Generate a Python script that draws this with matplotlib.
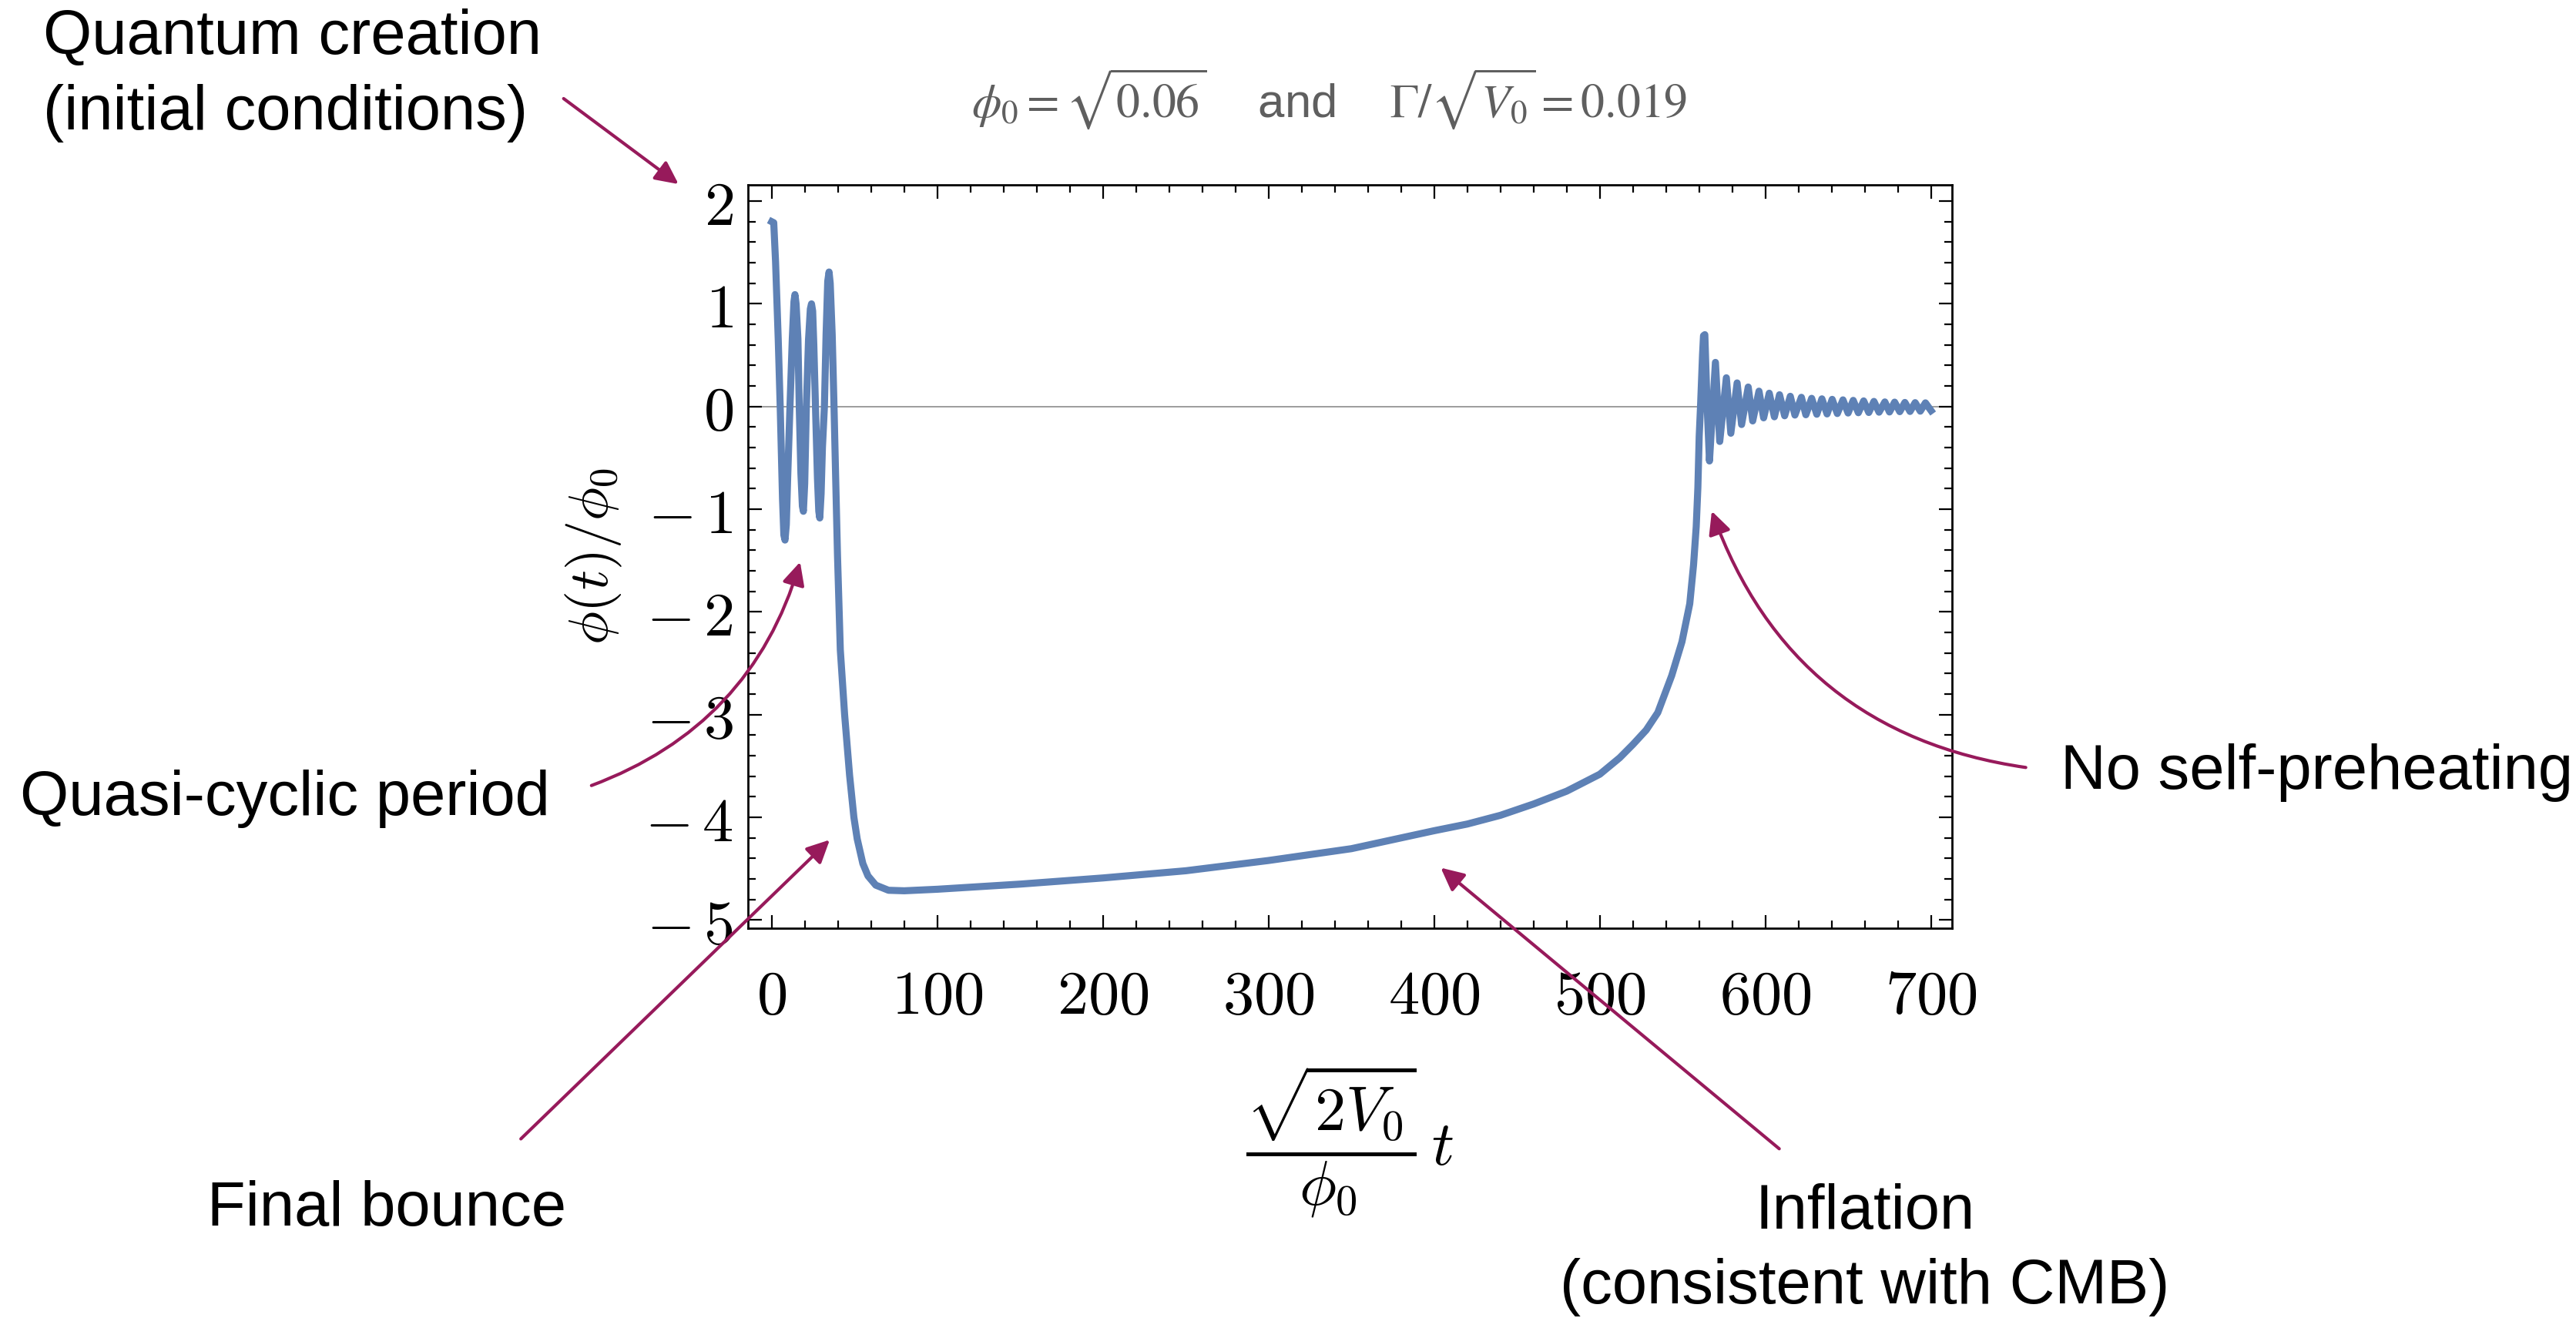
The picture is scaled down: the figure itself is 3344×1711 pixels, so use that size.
import matplotlib
matplotlib.use('Agg')
import matplotlib.pyplot as plt
from matplotlib.ticker import MultipleLocator, FuncFormatter

plt.rcParams['mathtext.fontset'] = 'cm'

# values: t (x axis) and phi(t)/phi_0 (y axis)
t_early = [0, 1.2, 2.3, 3.9, 5.1, 6.5, 7.3, 8.0, 8.8, 9.6, 11.0, 12.4, 13.4, 14.0,
           14.7, 15.8, 16.6, 17.6, 18.5, 19.1, 19.9, 20.9, 22.2, 23.3, 24.0, 24.7,
           25.4, 26.4, 27.6, 28.4, 29.0, 29.8, 30.6, 31.8, 32.8, 33.8, 34.6, 35.3,
           36.5, 37.6, 38.6]
phi_early = [1.80, 1.79, 1.41, 0.66, 0.0, -0.90, -1.25, -1.30, -1.15, -0.70, 0.0,
             0.66, 1.02, 1.09, 1.00, 0.66, 0.0, -0.65, -0.97, -1.02, -0.75, 0.0,
             0.65, 0.95, 1.00, 0.93, 0.60, 0.0, -0.70, -1.02, -1.085, -0.85, -0.40,
             0.0, 0.70, 1.22, 1.31, 1.20, 0.70, 0.0, -0.70]

t_fall = [39.7, 41.4, 44.0, 47.0, 49.6, 51.6, 55.0, 58.1, 62.8, 70.5]
phi_fall = [-1.45, -2.37, -3.0, -3.59, -4.0, -4.21, -4.45, -4.57, -4.66, -4.71]

t_slow = [80, 100, 150, 200, 250, 300, 350, 400, 420, 440, 460, 480, 500, 512,
          520, 528, 535, 543.4, 549.6, 554.3, 556.6, 558.2, 559.2, 560.0, 560.8]
phi_slow = [-4.715, -4.70, -4.65, -4.59, -4.52, -4.42, -4.305, -4.13, -4.065,
            -3.98, -3.87, -3.745, -3.58, -3.42, -3.29, -3.15, -2.98, -2.62, -2.29,
            -1.92, -1.54, -1.17, -0.79, -0.29, 0.0]

t_late = [562.0, 562.6, 563.4, 564.8, 566.2, 569.8, 572.4, 576.4, 579.1, 582.9,
          585.6, 589.6, 592.3, 596.1, 598.9, 602.3, 605.4, 608.5, 611.6, 615.0,
          617.8, 621.7, 624.4, 627.9, 631.0, 634.1, 637.2, 640.3, 643.4, 646.8,
          649.9, 653.0, 656.1, 659.3, 662.4, 665.5, 668.6, 672.1, 674.9, 678.0,
          681.1, 684.2, 687.3, 690.4, 693.5, 696.6, 700.0]
phi_late = [0.50, 0.69, 0.70, 0.0, -0.53, 0.43, -0.34, 0.28, -0.26, 0.23, -0.175,
            0.19, -0.14, 0.15, -0.11, 0.13, -0.10, 0.115, -0.09, 0.10, -0.083,
            0.09, -0.08, 0.08, -0.075, 0.075, -0.072, 0.07, -0.068, 0.065, -0.063,
            0.06, -0.06, 0.055, -0.058, 0.05, -0.055, 0.045, -0.053, 0.043, -0.05,
            0.04, -0.048, 0.038, -0.045, 0.036, -0.04]

t = t_early + t_fall + t_slow + t_late
phi = phi_early + phi_fall + phi_slow + phi_late

x_ticks = [0, 100, 200, 300, 400, 500, 600, 700]
y_ticks = [-5, -4, -3, -2, -1, 0, 1, 2]

line_col = '#5e81b5'
arrow_col = '#971a5b'

fig = plt.figure(figsize=(16.72, 8.555), dpi=200)
ax = fig.add_axes([0.2904, 0.2957, 0.7578 - 0.2904, 0.8597 - 0.2957])

ax.axhline(0, color='#8c8c8c', lw=0.6, zorder=1)
ax.plot(t, phi, color=line_col, lw=3.3, solid_joinstyle='round', zorder=2)

ax.set_xlim(-14.3, 712.7)
ax.set_ylim(-5.08, 2.158)

ax.set_xticks(x_ticks)
ax.set_yticks(y_ticks)
ax.xaxis.set_minor_locator(MultipleLocator(20))
ax.yaxis.set_minor_locator(MultipleLocator(0.2))


def fmt(v, pos):
    n = int(round(v))
    if n < 0:
        return r'$-\,%d$' % (-n)
    return r'$%d$' % n


ax.xaxis.set_major_formatter(FuncFormatter(fmt))
ax.yaxis.set_major_formatter(FuncFormatter(fmt))
ax.tick_params(which='both', direction='in', top=True, right=True, width=0.8,
               labelsize=29)
ax.tick_params(which='major', length=6.3)
ax.tick_params(which='minor', length=3.6)
ax.tick_params(axis='x', which='major', pad=18)
ax.tick_params(axis='y', which='major', pad=7)
for s in ax.spines.values():
    s.set_linewidth(1.0)

ax.set_ylabel(r'$\phi(t)/\phi_0$', fontsize=26)
ax.yaxis.set_label_coords(-0.103, 0.5)
ax.set_xlabel(r'$\dfrac{\sqrt{2V_0}}{\phi_0}\,t$', fontsize=29)
ax.xaxis.set_label_coords(0.5, -0.287)
ax.xaxis.label.set_va('center')

fig.text(0.516, 0.925, r'$\phi_0=\sqrt{0.06}$    and    $\Gamma/\sqrt{V_0}=0.019$',
         ha='center', va='center', fontsize=22.2, color='#5f5f5f',
         family='Liberation Sans', math_fontfamily='stix')

txt = dict(family='Liberation Sans', fontsize=29.3, color='black')
fig.text(0.0166, 0.9425, 'Quantum creation\n(initial conditions)', ha='left',
         va='center', linespacing=1.37, **txt)
fig.text(0.0077, 0.394, 'Quasi-cyclic period', ha='left', va='center', **txt)
fig.text(0.0804, 0.0823, 'Final bounce', ha='left', va='center', **txt)
fig.text(0.7239, 0.0517, 'Inflation\n(consistent with CMB)', ha='center',
         va='center', multialignment='center', linespacing=1.37, **txt)
fig.text(0.800, 0.414, 'No self-preheating', ha='left', va='center', **txt)

arrows = [
    ((0.2188, 0.9252), (0.2634, 0.8603), 0.0),
    ((0.2296, 0.4040), (0.3106, 0.5736), 0.25),
    ((0.2022, 0.1359), (0.3221, 0.3628), 0.0),
    ((0.6907, 0.1284), (0.5593, 0.3416), 0.0),
    ((0.7864, 0.4177), (0.6645, 0.6122), -0.3),
]
for start, tip, rad in arrows:
    ax.annotate('', xy=tip, xytext=start, xycoords='figure fraction',
                textcoords='figure fraction', annotation_clip=False,
                arrowprops=dict(arrowstyle='-|>,head_length=0.45,head_width=0.22',
                                mutation_scale=20, color=arrow_col, lw=1.5,
                                shrinkA=0, shrinkB=0,
                                connectionstyle='arc3,rad=%s' % rad))

fig.savefig('out.png', dpi=200)
